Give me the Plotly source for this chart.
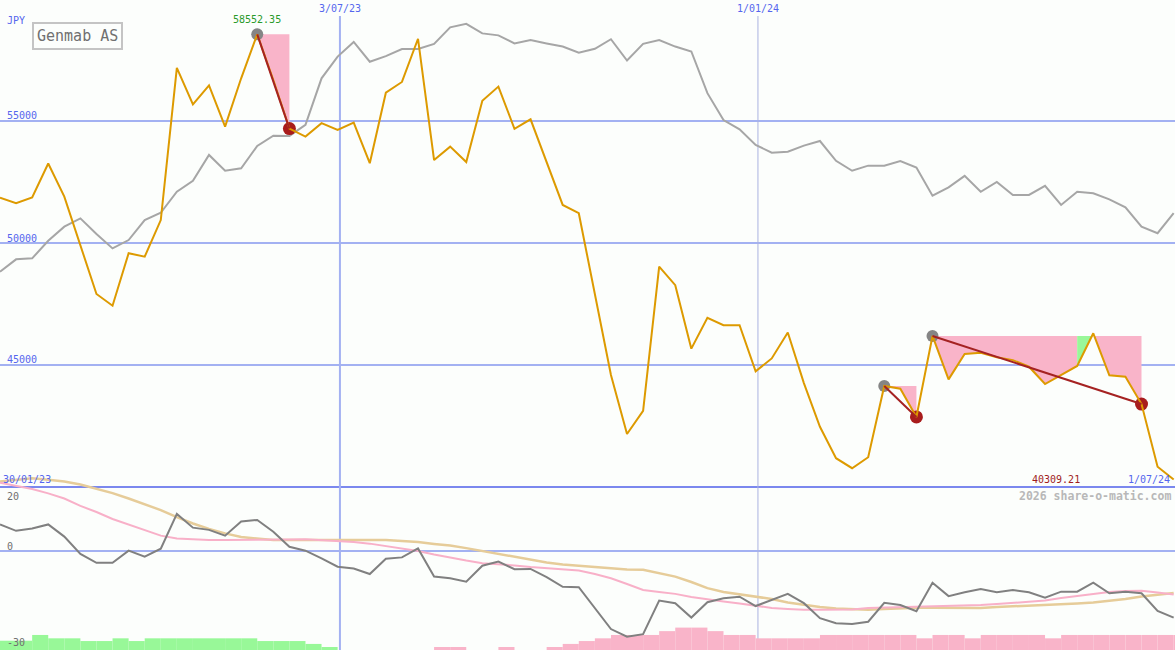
import plotly.graph_objects as go
import pandas as pd

W, H = 1175, 650

# ---------------- data ----------------
dates = pd.date_range("2023-02-05", periods=74, freq="7D")

price = [51860, 51630, 51870, 53260, 51900, 49920, 47910, 47430, 49580, 49440,
         50940, 57180, 55680, 56460, 54770, 56750, 58552.35, 56680, 54690, 54360,
         54910, 54630, 54930, 53270, 56160, 56600, 58370, 53400, 53950, 53320,
         55830, 56410, 54680, 55070, 53280, 51560, 51220, 47950, 44590, 42170,
         43120, 49030, 48270, 45670, 46930, 46630, 46630, 44740, 45270, 46330,
         44260, 42470, 41180, 40770, 41220, 44140, 44030, 42870, 46190, 44410,
         45450, 45500, 45320, 45200, 44930, 44220, 44580, 44960, 46300, 44580,
         44520, 43400, 40830, 40309.21]

index_line = [48820, 49330, 49370, 50090, 50670, 51010, 50370, 49780, 50120, 50940,
              51240, 52100, 52550, 53610, 52960, 53060, 53980, 54400, 54390, 54840,
              56750, 57640, 58240, 57430, 57660, 57950, 57950, 58160, 58840, 58980,
              58590, 58510, 58180, 58320, 58180, 58050, 57800, 57960, 58350, 57480,
              58160, 58320, 58050, 57850, 56140, 55040, 54660, 54020, 53700, 53740,
              53990, 54180, 53370, 52960, 53170, 53170, 53360, 53090, 51940, 52280,
              52750, 52100, 52500, 51970, 51970, 52340, 51560, 52100, 52040, 51790,
              51460, 50670, 50400, 51220]

momentum = [8.3, 6.3, 7.0, 8.3, 4.5, -0.9, -3.7, -3.7, 0.1, -1.8,
            0.7, 11.6, 7.3, 6.6, 4.8, 9.2, 9.7, 6.0, 1.3, 0.1,
            -2.3, -4.9, -5.5, -7.2, -2.4, -2.0, 0.8, -8.0, -8.5, -9.6,
            -4.6, -3.3, -5.7, -5.6, -8.2, -11.2, -11.3, -17.8, -24.4, -26.8,
            -26.0, -15.5, -16.3, -20.8, -16.0, -14.8, -14.3, -17.2, -15.3, -13.4,
            -16.3, -21.0, -22.6, -22.8, -22.1, -16.2, -16.9, -18.8, -9.9, -14.1,
            -12.9, -11.9, -12.9, -12.2, -12.9, -14.6, -12.7, -12.7, -9.9, -13.2,
            -12.7, -13.2, -18.7, -20.8]

ma_fast = [21.3, 20.3, 19.4, 18.0, 16.4, 14.1, 12.2, 10.0, 8.3, 6.4,
           4.8, 3.9, 3.6, 3.4, 3.4, 3.4, 3.4, 3.4, 3.6, 3.7,
           3.4, 3.2, 2.8, 2.3, 1.6, 0.8, 0.0, -1.1, -2.1, -3.0,
           -3.8, -4.1, -4.5, -5.0, -5.4, -5.8, -6.1, -7.2, -8.5, -10.3,
           -12.2, -12.8, -13.4, -14.4, -15.2, -15.8, -16.4, -17.1, -17.8, -18.1,
           -18.4, -18.4, -18.4, -18.3, -17.8, -17.7, -17.5, -17.4, -17.3, -17.3,
           -17.2, -16.9, -16.6, -16.3, -15.9, -15.5, -14.7, -14.1, -13.4, -12.8,
           -12.5, -12.4, -13.0, -13.6]

ma_slow = [21.7, 22.3, 22.7, 22.3, 21.7, 20.8, 19.5, 18.1, 16.4, 14.7,
           12.8, 10.6, 8.6, 6.9, 5.5, 4.4, 3.8, 3.4, 3.4, 3.4,
           3.4, 3.6, 3.6, 3.4, 3.4, 3.1, 2.8, 2.2, 1.7, 0.9,
           0.0, -0.9, -1.9, -2.8, -3.6, -4.2, -4.6, -5.0, -5.5, -5.8,
           -5.9, -6.9, -8.0, -9.7, -11.6, -12.8, -13.6, -14.2, -15.0, -16.1,
           -16.9, -17.5, -18.0, -18.3, -18.4, -18.1, -17.8, -17.7, -17.7, -17.8,
           -17.9, -17.8, -17.5, -17.3, -17.2, -17.0, -16.7, -16.4, -16.1, -15.6,
           -15.0, -14.2, -13.6, -13.1]

bar_levels = [2.9, 2.9, 4.7, 3.65, 3.65, 2.8, 2.8, 3.65, 2.8, 3.65,
              3.65, 3.65, 3.65, 3.65, 3.65, 3.65, 2.8, 2.8, 2.8, 1.9,
              0.94, 0, 0, 0, 0, 0, 0, -0.94, -0.94, 0,
              0, -0.94, 0, 0, -0.94, -1.9, -2.8, -3.65, -4.7, -4.7,
              -4.7, -5.9, -7.0, -7.0, -5.9, -4.7, -4.7, -3.65, -3.65, -3.65,
              -3.65, -4.7, -4.7, -4.7, -4.7, -4.7, -4.7, -3.65, -4.7, -4.7,
              -3.65, -4.7, -4.7, -4.7, -4.7, -3.65, -4.7, -4.7, -4.7, -4.7,
              -4.7, -4.7, -4.7, -4.7]

peaks = [16, 55, 58]
troughs = [18, 57, 71]
recovery = (67, 68)   # green section inside the last drawdown

# ---------------- styling ----------------
BG = "#fcfefc"
GRID = "#a3b1f2"
GRID_DARK = "#7b88ee"
BLUE_TXT = "#5566ee"
ORANGE = "#dd9a00"
PINK_FILL = "#f9b4c9"
GREEN_FILL = "#99f799"
BROWN = "#a52222"
MONO = "DejaVu Sans Mono"

Y1 = [33319.7, 59959.0]
Y2 = [-30.94, 172.19]

fig = go.Figure()

# bars at bottom of indicator panel
green_h = [v if v > 0 else 0 for v in bar_levels]
pink_h = [-v if v < 0 else 0 for v in bar_levels]
week_ms = 7 * 86400000
fig.add_trace(go.Bar(x=dates, y=green_h, base=Y2[0], width=week_ms, offset=0,
                     marker=dict(color="#98f898", line=dict(width=0)), yaxis="y2"))
fig.add_trace(go.Bar(x=dates, y=pink_h, base=Y2[0], width=week_ms, offset=0,
                     marker=dict(color="#f9b4c9", line=dict(width=0)), yaxis="y2"))

# indicator lines
fig.add_trace(go.Scatter(x=dates, y=ma_slow, mode="lines",
                         line=dict(color="#e6cc99", width=2.5), yaxis="y2"))
fig.add_trace(go.Scatter(x=dates, y=ma_fast, mode="lines",
                         line=dict(color="#f8b0c8", width=2), yaxis="y2"))
fig.add_trace(go.Scatter(x=dates, y=momentum, mode="lines",
                         line=dict(color="#808080", width=2), yaxis="y2"))


def fill_poly(a, b, level, color):
    xs = list(dates[a:b + 1]) + [dates[b], dates[a]]
    ys = list(price[a:b + 1]) + [level, level]
    fig.add_trace(go.Scatter(x=xs, y=ys, mode="lines", fill="toself",
                             fillcolor=color, line=dict(width=0), hoverinfo="skip"))


# drawdown areas
fill_poly(peaks[0], troughs[0], price[peaks[0]], PINK_FILL)
fill_poly(peaks[1], troughs[1], price[peaks[1]], PINK_FILL)
lvl = price[peaks[2]]
fill_poly(peaks[2], recovery[0], lvl, PINK_FILL)
fill_poly(recovery[0], recovery[1], lvl, GREEN_FILL)
fill_poly(recovery[1], troughs[2], lvl, PINK_FILL)

# comparison index line
fig.add_trace(go.Scatter(x=dates, y=index_line, mode="lines",
                         line=dict(color="#a6a6a6", width=2)))

# peak / trough markers
fig.add_trace(go.Scatter(x=[dates[i] for i in peaks], y=[price[i] for i in peaks],
                         mode="markers", marker=dict(color="#858585", size=12)))
fig.add_trace(go.Scatter(x=[dates[i] for i in troughs], y=[price[i] for i in troughs],
                         mode="markers", marker=dict(color="#a81c1c", size=13)))

# price line
fig.add_trace(go.Scatter(x=dates, y=price, mode="lines",
                         line=dict(color=ORANGE, width=2)))

# drawdown connectors
for p, t in zip(peaks, troughs):
    fig.add_trace(go.Scatter(x=[dates[p], dates[t]], y=[price[p], price[t]],
                             mode="lines", line=dict(color=BROWN, width=2)))

# ---------------- grid shapes ----------------
shapes = []
for lv in [55000, 50000, 45000]:
    shapes.append(dict(type="line", xref="paper", x0=0, x1=1, yref="y", y0=lv, y1=lv,
                       line=dict(color=GRID, width=2), layer="below"))
shapes.append(dict(type="line", xref="paper", x0=0, x1=1, yref="y", y0=40000, y1=40000,
                   line=dict(color=GRID_DARK, width=2), layer="below"))
shapes.append(dict(type="line", xref="paper", x0=0, x1=1, yref="y2", y0=0, y1=0,
                   line=dict(color=GRID, width=2), layer="below"))
shapes.append(dict(type="line", xref="x", x0="2023-07-03", x1="2023-07-03",
                   yref="paper", y0=0, y1=1 - 16 / H,
                   line=dict(color=GRID, width=2), layer="below"))
shapes.append(dict(type="line", xref="x", x0="2024-01-01", x1="2024-01-01",
                   yref="paper", y0=0, y1=1 - 16 / H,
                   line=dict(color="#aab2e0", width=1), layer="below"))


def px(x):
    return x / W


def py(y):
    return 1 - y / H


def label(text, x, y, color, size=10, xanchor="left", bold=False):
    return dict(text=f"<b>{text}</b>" if bold else text, x=px(x), y=py(y),
                xref="paper", yref="paper", xanchor=xanchor, yanchor="middle",
                showarrow=False, font=dict(family=MONO, size=size, color=color))


annotations = [
    label("JPY", 5, 20.5, BLUE_TXT),
    label("55000", 5, 116, BLUE_TXT),
    label("50000", 5, 238, BLUE_TXT),
    label("45000", 5, 359.5, BLUE_TXT),
    label("30/01/23", 1, 479, BLUE_TXT),
    label("1/07/24", 1172, 479, BLUE_TXT, xanchor="right"),
    label("40309.21", 1082, 479, "#a01c1c", xanchor="right"),
    label("2026 share-o-matic.com", 1173, 496, "#b8b8b8", size=11.5, xanchor="right", bold=True),
    label("20", 5, 496, "#707070"),
    label("0", 5, 546, "#707070"),
    label("-30", 5, 642, "#707070"),
    dict(text="3/07/23", x="2023-07-03", y=py(9), xref="x", yref="paper",
         xanchor="center", yanchor="middle", showarrow=False,
         font=dict(family=MONO, size=10, color=BLUE_TXT)),
    dict(text="1/01/24", x="2024-01-01", y=py(9), xref="x", yref="paper",
         xanchor="center", yanchor="middle", showarrow=False,
         font=dict(family=MONO, size=10, color=BLUE_TXT)),
    dict(text=f"{price[peaks[0]]:.2f}", x=dates[peaks[0]], y=price[peaks[0]],
         xref="x", yref="y", yshift=15, xanchor="center", yanchor="middle",
         showarrow=False, font=dict(family=MONO, size=10, color="#2a9a2a")),
    dict(text="Genmab AS", x=px(32), y=py(36), xref="paper", yref="paper",
         xanchor="left", yanchor="middle", showarrow=False,
         font=dict(family=MONO, size=15, color="#707070"),
         bordercolor="#c4c4c4", borderwidth=2, borderpad=3, bgcolor=BG),
]

fig.update_layout(
    width=W, height=H,
    margin=dict(l=0, r=0, t=0, b=0),
    paper_bgcolor=BG, plot_bgcolor=BG,
    showlegend=False,
    barmode="overlay",
    xaxis=dict(type="date", range=["2023-02-05", "2024-06-30 14:00"],
               visible=False, showgrid=False, zeroline=False, fixedrange=True),
    yaxis=dict(range=Y1, visible=False, showgrid=False, zeroline=False, fixedrange=True),
    yaxis2=dict(range=Y2, overlaying="y", visible=False, showgrid=False,
                zeroline=False, fixedrange=True),
    shapes=shapes,
    annotations=annotations,
)

fig.write_html("out.html", post_script="document.body.style.margin='0';",
               config={"displayModeBar": False})
